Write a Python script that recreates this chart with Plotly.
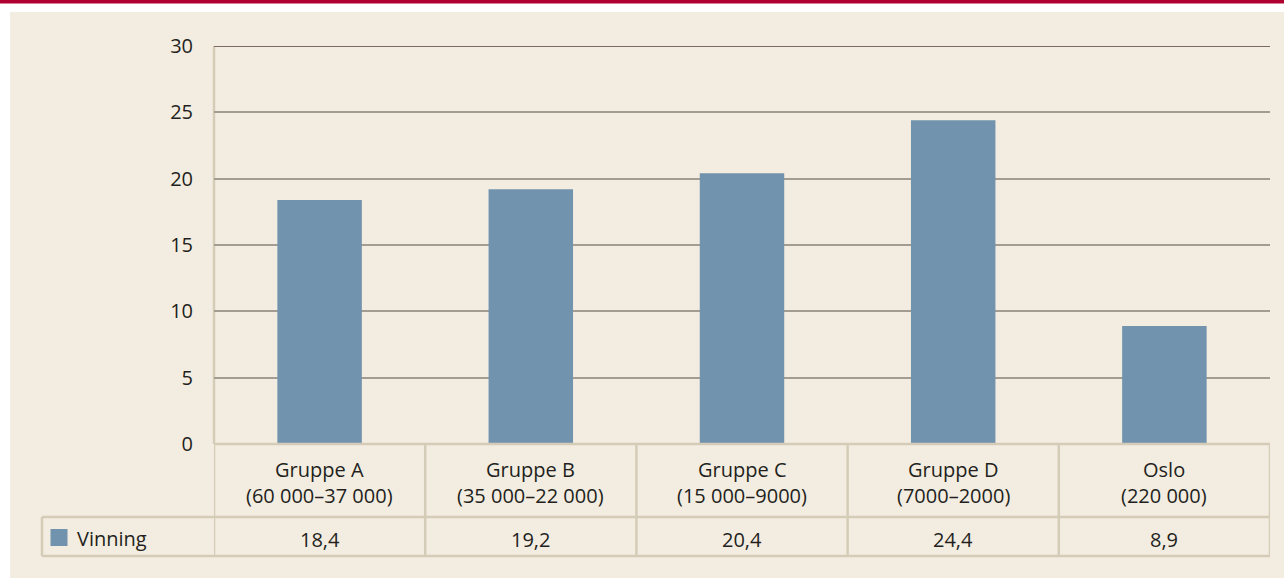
import plotly.graph_objects as go

# ---- data ----
categories = ["Gruppe A", "Gruppe B", "Gruppe C", "Gruppe D", "Oslo"]
subtitles = ["(60 000–37 000)", "(35 000–22 000)", "(15 000–9000)", "(7000–2000)", "(220 000)"]
series_name = "Vinning"
values = [18.4, 19.2, 20.4, 24.4, 8.9]
value_labels = ["18,4", "19,2", "20,4", "24,4", "8,9"]
y_ticks = [0, 5, 10, 15, 20, 25, 30]

W, H = 1284, 579
FONT = "Open Sans"
FS = 20
TXT = "#231f20"
BAR = "#7193ad"
BEIGE = "#f3ede1"
TABLE = "#d5ccb8"

def px(x):
    return x / W

def py(y):
    return 1 - y / H

# plot area in pixels
L, R, T, B = 214, 1270, 46, 444
ROW1 = 517
ROW2 = 556
LEG_L = 42

xs = list(range(len(categories)))
n = len(categories)

fig = go.Figure()
fig.add_trace(go.Bar(x=xs, y=values, marker=dict(color=BAR, line=dict(width=0)),
                     width=0.4, name=series_name, showlegend=False, hoverinfo="y"))

shapes = []
# page background pieces
shapes.append(dict(type="rect", xref="paper", yref="paper", x0=px(10), x1=1.0, y0=py(578), y1=py(12),
                   fillcolor=BEIGE, line=dict(width=0), layer="below"))
shapes.append(dict(type="rect", xref="paper", yref="paper", x0=0, x1=1.0, y0=py(3.5), y1=1.0,
                   fillcolor="#b0002f", line=dict(width=0), layer="below"))
# left axis line
shapes.append(dict(type="line", xref="paper", yref="paper", x0=px(L), x1=px(L), y0=py(B), y1=py(T),
                   line=dict(color=TABLE, width=2.5), layer="below"))
# darker top gridline
shapes.append(dict(type="line", xref="x", yref="y", x0=-0.5, x1=n - 0.5, y0=30, y1=30,
                   line=dict(color="#7d6a5e", width=2)))

# table lines
for i in range(n + 1):
    xb = i - 0.5
    shapes.append(dict(type="line", xref="x", yref="paper", x0=xb, x1=xb, y0=py(ROW2), y1=py(B),
                       line=dict(color=TABLE, width=2.5)))
shapes.append(dict(type="line", xref="x", yref="paper", x0=-0.5, x1=n - 0.5, y0=py(B), y1=py(B),
                   line=dict(color=TABLE, width=2.5)))
for yy in (ROW1, ROW2):
    shapes.append(dict(type="line", xref="paper", yref="paper", x0=px(LEG_L), x1=px(R), y0=py(yy), y1=py(yy),
                       line=dict(color=TABLE, width=2.5)))
shapes.append(dict(type="line", xref="paper", yref="paper", x0=px(LEG_L), x1=px(LEG_L), y0=py(ROW2), y1=py(ROW1),
                   line=dict(color=TABLE, width=2.5)))
# legend swatch
shapes.append(dict(type="rect", xref="paper", yref="paper", x0=px(50.5), x1=px(67.5), y0=py(546), y1=py(529),
                   fillcolor=BAR, line=dict(width=0)))

annotations = []
for i, (c, s, v) in enumerate(zip(categories, subtitles, value_labels)):
    annotations.append(dict(x=i, y=py(469), xref="x", yref="paper", text=c, showarrow=False,
                            font=dict(family=FONT, size=FS, color=TXT), xanchor="center", yanchor="middle"))
    annotations.append(dict(x=i, y=py(495), xref="x", yref="paper", text=s, showarrow=False,
                            font=dict(family=FONT, size=FS, color=TXT), xanchor="center", yanchor="middle"))
    annotations.append(dict(x=i, y=py(539), xref="x", yref="paper", text=v, showarrow=False,
                            font=dict(family=FONT, size=FS, color=TXT), xanchor="center", yanchor="middle"))
annotations.append(dict(x=px(75), y=py(538), xref="paper", yref="paper", text=series_name, showarrow=False,
                        font=dict(family=FONT, size=FS, color=TXT), xanchor="left", yanchor="middle"))

fig.update_layout(
    width=W, height=H,
    autosize=False,
    margin=dict(l=0, r=0, t=0, b=0, pad=0, autoexpand=False),
    paper_bgcolor="white",
    plot_bgcolor="rgba(0,0,0,0)",
    showlegend=False,
    shapes=shapes,
    annotations=annotations,
    xaxis=dict(domain=[px(L), px(R)], range=[-0.5, n - 0.5], showticklabels=False, automargin=False,
               showgrid=False, zeroline=False, showline=False, fixedrange=True),
    yaxis=dict(domain=[py(B), py(T)], range=[0, 30], tickvals=y_ticks, automargin=False,
               ticktext=[str(t) for t in y_ticks],
               showgrid=True, gridcolor="#a39c92", gridwidth=1.5, zeroline=False, showline=False,
               ticks="", ticklabelstandoff=20,
               tickfont=dict(family=FONT, size=FS, color=TXT), fixedrange=True),
)

fig.write_html("out.html", config={"responsive": False, "displayModeBar": False},
               post_script="document.body.style.margin='0';document.body.style.padding='0';")
